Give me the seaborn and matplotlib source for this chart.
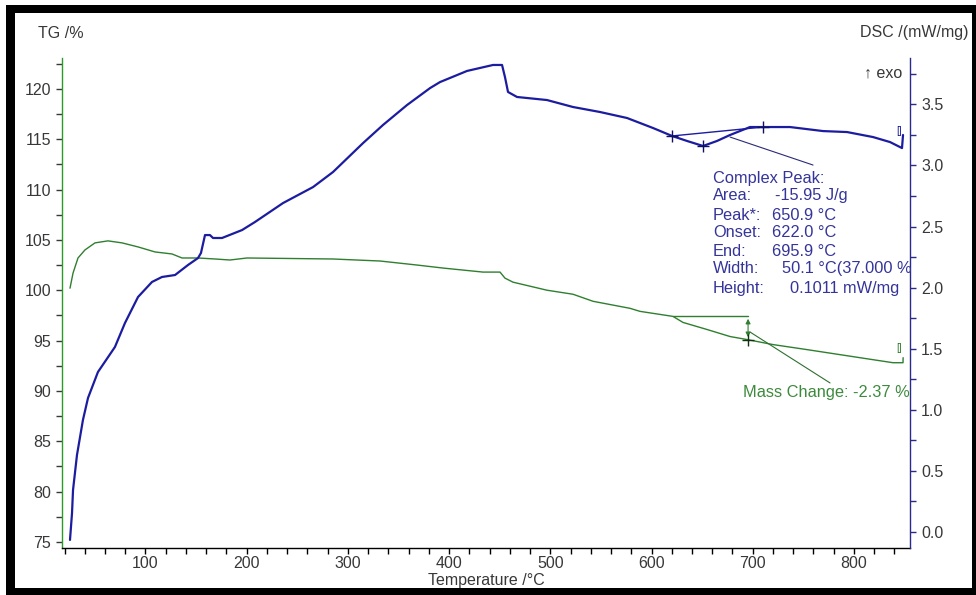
import matplotlib
matplotlib.use("Agg")
import matplotlib.pyplot as plt
import seaborn as sns
import pandas as pd
from matplotlib.ticker import MultipleLocator
from matplotlib.patches import Rectangle

# ---------------- data ----------------
tg_temp = [25.4, 28.4, 33.3, 40.2, 50.1, 62.9, 76.8, 92.6, 109.4, 126.2, 136.1, 151.9,
           168.7, 183.5, 200.3, 285.3, 331.7, 368.3, 394.0, 433.5, 450.3, 455.2, 463.1,
           496.7, 522.4, 542.2, 578.8, 588.6, 621.2, 631.1, 654.8, 677.6, 694.4, 720.1,
           753.7, 786.3, 818.9, 838.6, 848.5, 848.6]
tg_pct = [100.2, 101.7, 103.2, 104.0, 104.7, 104.9, 104.7, 104.3, 103.8, 103.6, 103.2, 103.2,
          103.1, 103.0, 103.2, 103.1, 102.9, 102.5, 102.2, 101.8, 101.8, 101.2, 100.8,
          100.0, 99.6, 98.9, 98.2, 97.9, 97.4, 96.8, 96.1, 95.4, 95.1, 94.6,
          94.1, 93.6, 93.1, 92.8, 92.8, 93.3]

dsc_temp = [25.4, 27.4, 28.4, 32.3, 38.2, 43.2, 53.0, 69.8, 79.7, 92.6, 106.4, 116.3, 129.2,
            142.0, 151.9, 154.8, 158.8, 163.7, 166.7, 175.6, 195.4, 208.2, 235.9, 265.6,
            285.3, 315.0, 334.7, 358.4, 381.2, 391.0, 417.7, 443.4, 452.3, 455.2, 458.2,
            467.1, 496.7, 522.4, 549.1, 575.8, 601.5, 620.3, 635.1, 650.9, 664.7, 677.6,
            697.3, 710.2, 736.9, 769.5, 793.2, 818.9, 835.7, 847.5, 848.5]
dsc_val = [-0.065, 0.155, 0.344, 0.630, 0.917, 1.097, 1.309, 1.514, 1.710, 1.923, 2.046, 2.087,
           2.103, 2.185, 2.242, 2.283, 2.430, 2.430, 2.406, 2.406, 2.471, 2.537, 2.692, 2.823,
           2.946, 3.183, 3.331, 3.494, 3.633, 3.682, 3.773, 3.822, 3.822, 3.723, 3.601,
           3.560, 3.535, 3.478, 3.437, 3.388, 3.306, 3.241, 3.200, 3.159, 3.200, 3.249,
           3.314, 3.314, 3.314, 3.281, 3.273, 3.232, 3.191, 3.142, 3.249]

x_ticks = [100, 200, 300, 400, 500, 600, 700, 800]
tg_ticks = [75, 80, 85, 90, 95, 100, 105, 110, 115, 120]
dsc_ticks = [0.0, 0.5, 1.0, 1.5, 2.0, 2.5, 3.0, 3.5]

# DSC peak evaluation (onset, peak, end markers) and mass-change step
dsc_marks_temp = [620.3, 650.9, 710.2]
dsc_marks_val = [3.241, 3.159, 3.314]
dsc_leader_temp = [677.6, 759.6]
dsc_leader_val = [3.232, 3.003]
mass_step_temp = [621.2, 695.4]
mass_step_tg = [97.44, 95.06]
mass_leader_temp = [697.3, 776.4]
mass_leader_tg = [95.85, 90.79]

peak_labels = ["Area:", "Peak*:", "Onset:", "End:", "Width:", "Height:"]
peak_values = ["-15.95 J/g", "650.9 °C", "622.0 °C", "695.9 °C", "50.1 °C(37.000 %", "0.1011 mW/mg"]

# ---------------- styling ----------------
sns.set_theme(style="white")
plt.rcParams['font.family'] = ['Liberation Sans', 'DejaVu Sans']
FS = 11.5
FS_NOTE = 11.8
BLUE = "#1c1ca0"
BLUE_TXT = "#34349a"
GREEN = "#2f7f2f"
GREEN_TXT = "#3d8a3d"
GRAY = "#383838"

W, H = 976, 595
def fx(px):
    return px / W
def fy(py):
    return 1 - py / H

fig = plt.figure(figsize=(W / 100, H / 100), dpi=100)
fig.patch.set_facecolor("white")
ax = fig.add_axes([fx(62), fy(548), (910 - 62) / W, (548 - 58) / H])
ax2 = ax.twinx()

tg_df = pd.DataFrame({"Temperature": tg_temp, "TG": tg_pct})
dsc_df = pd.DataFrame({"Temperature": dsc_temp, "DSC": dsc_val})

sns.lineplot(data=tg_df, x="Temperature", y="TG", ax=ax, color=GREEN, lw=1.0,
             estimator=None, sort=False)
sns.lineplot(data=dsc_df, x="Temperature", y="DSC", ax=ax2, color=BLUE, lw=1.6,
             estimator=None, sort=False)

ax.set_xlim(17.5, 855.4)
ax.set_ylim(74.4, 123.06)
ax2.set_ylim(-0.131, 3.879)

ax.set_xticks(x_ticks)
ax.set_yticks(tg_ticks)
ax2.set_yticks(dsc_ticks)
ax.set_yticklabels([str(t) for t in tg_ticks])
ax2.set_yticklabels([f"{t:.1f}" for t in dsc_ticks])
ax.xaxis.set_minor_locator(MultipleLocator(20))
ax.yaxis.set_minor_locator(MultipleLocator(2.5))
ax2.yaxis.set_minor_locator(MultipleLocator(0.25))

ax.set_ylabel("")
ax2.set_ylabel("")
ax.set_xlabel("Temperature /°C", fontsize=FS, color=GRAY)
ax.xaxis.set_label_coords(0.5, -0.051)

for a in (ax, ax2):
    a.spines["top"].set_visible(False)
ax2.spines["left"].set_visible(False)
ax.spines["right"].set_visible(False)
ax.spines["left"].set_color("#2a9a2a")
ax.spines["bottom"].set_color("black")
ax2.spines["right"].set_color("#2a2a8a")
ax2.spines["bottom"].set_visible(False)
for s in ax.spines.values():
    s.set_linewidth(1.0)
ax2.spines["right"].set_linewidth(1.0)

ax.tick_params(axis="x", which="both", bottom=True, direction="out", length=4, width=1,
               color="black", labelcolor=GRAY, labelsize=FS, pad=2)
ax.tick_params(axis="y", which="both", left=True, right=False, direction="out", length=4,
               width=1, color=GRAY, labelcolor=GRAY, labelsize=FS, pad=4)
ax2.tick_params(axis="y", which="both", right=True, left=False, direction="out", length=4,
                width=1, color="#2a2a8a", labelcolor=GRAY, labelsize=FS, pad=4)

# ---------------- evaluation annotations ----------------
ax2.plot([dsc_marks_temp[0], dsc_marks_temp[2]], [dsc_marks_val[0], dsc_marks_val[2]],
         color=BLUE, lw=1.0)
ax2.plot(dsc_leader_temp, dsc_leader_val, color="#2a2a7a", lw=0.8)
ax2.scatter(dsc_marks_temp, dsc_marks_val, marker="+", s=70, color="#101060", lw=1.0, zorder=5)

ax.plot(mass_step_temp, [mass_step_tg[0], mass_step_tg[0]], color=GREEN, lw=1.0)
ax.annotate("", xy=(mass_step_temp[1], mass_step_tg[1]), xytext=(mass_step_temp[1], mass_step_tg[0]),
            arrowprops=dict(arrowstyle="<|-|>", color=GREEN, lw=0.8, mutation_scale=7))
ax.scatter([mass_step_temp[1]], [mass_step_tg[1]], marker="+", s=70, color="#103010", lw=1.0, zorder=5)
ax.plot(mass_leader_temp, mass_leader_tg, color="#2f6f2f", lw=0.8)

# end-of-curve markers
ax2.text(847.0, 3.28, "[]", color=BLUE, fontsize=7, ha="right", va="center")
ax.text(847.0, 94.3, "[]", color=GREEN, fontsize=7, ha="right", va="center")

fig.text(fx(713), fy(178), "Complex Peak:", color=BLUE_TXT, fontsize=FS_NOTE, ha="left", va="center")
row_y = [196, 215, 233, 251, 269, 288]
val_x = [775, 772, 772, 772, 782, 790]
for lab, val, yy, xx in zip(peak_labels, peak_values, row_y, val_x):
    fig.text(fx(713), fy(yy), lab, color=BLUE_TXT, fontsize=FS_NOTE, ha="left", va="center")
    fig.text(fx(xx), fy(yy), val, color=BLUE_TXT, fontsize=FS_NOTE, ha="left", va="center")

fig.text(fx(743), fy(393), "Mass Change: -2.37 %", color=GREEN_TXT, fontsize=FS_NOTE,
         ha="left", va="center")

# axis titles
fig.text(fx(38), fy(33), "TG /%", color=GRAY, fontsize=FS, ha="left", va="center")
fig.text(fx(968), fy(33), "DSC /(mW/mg)", color=GRAY, fontsize=FS, ha="right", va="center")
fig.text(fx(902), fy(73), "↑ exo", color=GRAY, fontsize=FS, ha="right", va="center")

# thick black frame
for (x0, y0, x1, y1) in [(6, 5, 976, 13), (6, 5, 15, 595), (972, 5, 976, 595), (6, 588, 976, 595)]:
    fig.patches.append(Rectangle((fx(x0), fy(y1)), (x1 - x0) / W, (y1 - y0) / H,
                                 transform=fig.transFigure, facecolor="black",
                                 edgecolor="none", zorder=10))

fig.savefig("out.png", dpi=100)
